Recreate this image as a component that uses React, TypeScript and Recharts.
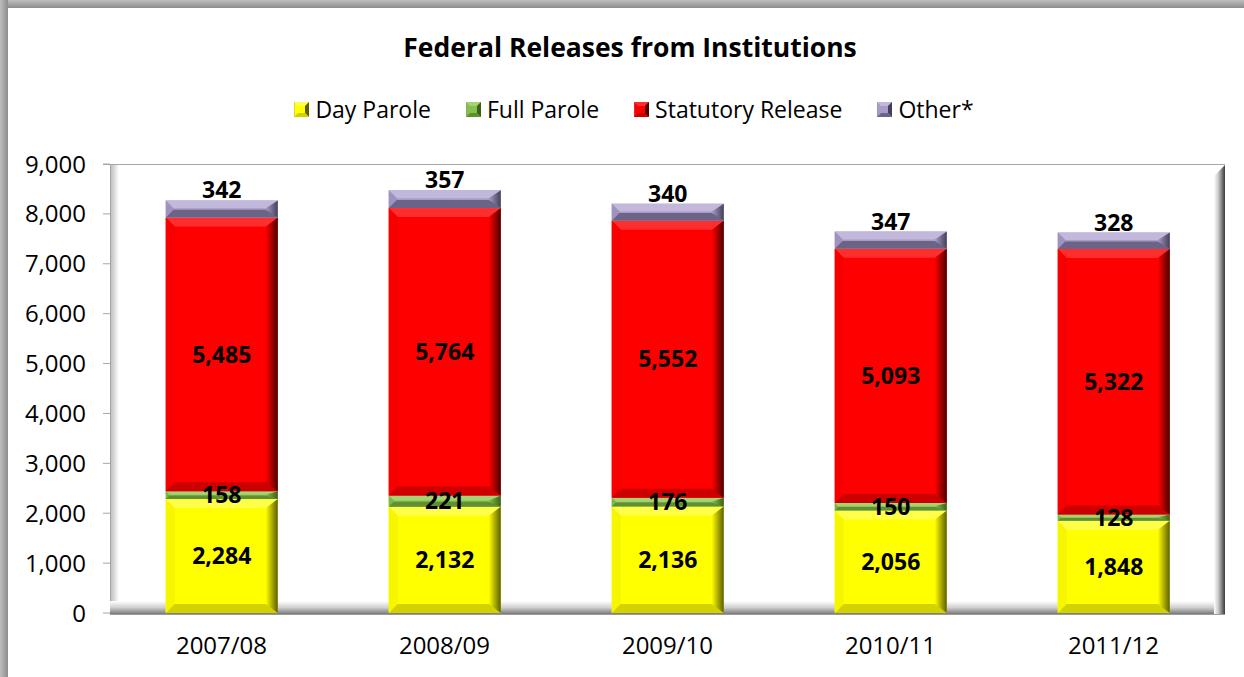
import React from 'react';
import { BarChart, Bar, XAxis, YAxis, Legend, LabelList } from 'recharts';

const categories = ['2007/08', '2008/09', '2009/10', '2010/11', '2011/12'];
const dayParole = [2284, 2132, 2136, 2056, 1848];
const fullParole = [158, 221, 176, 150, 128];
const statutoryRelease = [5485, 5764, 5552, 5093, 5322];
const otherReleases = [342, 357, 340, 347, 328];
const yTicks = [0, 1000, 2000, 3000, 4000, 5000, 6000, 7000, 8000, 9000];

const data = categories.map((c, i) => ({
  category: c,
  day: dayParole[i],
  full: fullParole[i],
  stat: statutoryRelease[i],
  other: otherReleases[i],
}));

type Pal = { base: string; light: string; side: string; dark: string; bottom: string };
const series: { key: string; name: string; pal: Pal }[] = [
  { key: 'day', name: 'Day Parole', pal: { base: '#ffff00', light: '#ffff4a', side: '#f6f600', dark: '#5e5e00', bottom: '#d2d200' } },
  { key: 'full', name: 'Full Parole', pal: { base: '#86c04a', light: '#a6d276', side: '#7db845', dark: '#3d6018', bottom: '#5f8f30' } },
  { key: 'stat', name: 'Statutory Release', pal: { base: '#ff0000', light: '#ff2e2e', side: '#f60000', dark: '#4a0000', bottom: '#cc0000' } },
  { key: 'other', name: 'Other*', pal: { base: '#a89bc6', light: '#c2b8dc', side: '#a092c0', dark: '#454058', bottom: '#6c6486' } },
];

const FONT = '"Open Sans", "DejaVu Sans", sans-serif';

const makeBevel = (pal: Pal, id: string) => (props: any) => {
  const { x, y, width, height } = props;
  if (!height || height <= 0 || !width) return <g />;
  const w = width;
  const h = height;
  const b = Math.max(1, Math.min(9, h / 2.2, w / 5));
  const r = Math.min(12, w / 6);
  return (
    <g>
      <defs>
        <linearGradient id={`rg-${id}`} x1="0" y1="0" x2="1" y2="0">
          <stop offset="0" stopColor={pal.base} />
          <stop offset="1" stopColor={pal.dark} />
        </linearGradient>
      </defs>
      <rect x={x} y={y} width={w} height={h} fill={pal.base} />
      <polygon points={`${x},${y} ${x + w},${y} ${x + w - b},${y + b} ${x + b},${y + b}`} fill={pal.light} />
      <polygon points={`${x},${y} ${x + b},${y + b} ${x + b},${y + h - b} ${x},${y + h}`} fill={pal.side} />
      <polygon points={`${x},${y + h} ${x + w},${y + h} ${x + w - b},${y + h - b} ${x + b},${y + h - b}`} fill={pal.bottom} />
      <polygon
        points={`${x + w},${y} ${x + w},${y + h} ${x + w - r},${y + h - Math.min(b, r)} ${x + w - r},${y + Math.min(b, r)}`}
        fill={`url(#rg-${id})`}
      />
    </g>
  );
};

const shapes: Record<string, any> = {};
series.forEach((s) => {
  shapes[s.key] = makeBevel(s.pal, s.key);
});

const fmt = (v: any) => Number(v).toLocaleString('en-US');

const LegendIcon = ({ pal }: { pal: Pal }) => (
  <svg width={15} height={15} style={{ display: 'block' }}>
    <rect x={0} y={0} width={15} height={15} fill={pal.base} stroke="#8a8a8a" strokeWidth={0.6} />
    <polygon points="0,0 15,0 11,4 4,4" fill={pal.light} />
    <polygon points="15,0 15,15 11,11 11,4" fill={pal.dark} />
    <polygon points="0,15 15,15 11,11 4,11" fill={pal.bottom} />
  </svg>
);

const renderLegend = () => (
  <div style={{ display: 'flex', justifyContent: 'center', alignItems: 'center', fontFamily: FONT, fontSize: 23, color: '#000', paddingLeft: 24 }}>
    {series.map((s, i) => (
      <div key={s.key} style={{ display: 'flex', alignItems: 'center', marginLeft: i === 0 ? 0 : 35 }}>
        <LegendIcon pal={s.pal} />
        <span style={{ marginLeft: 6 }}>{s.name}</span>
      </div>
    ))}
  </div>
);

const Background = () => (
  <svg width={1244} height={677} style={{ position: 'absolute', left: 0, top: 0 }}>
    <defs>
      <linearGradient id="frameTop" x1="0" y1="0" x2="0" y2="1">
        <stop offset="0" stopColor="#bdbdbd" />
        <stop offset="1" stopColor="#8c8c8c" />
      </linearGradient>
      <linearGradient id="frameLeft" x1="0" y1="0" x2="1" y2="0">
        <stop offset="0" stopColor="#bdbdbd" />
        <stop offset="1" stopColor="#8c8c8c" />
      </linearGradient>
      <linearGradient id="leftWall" x1="0" y1="0" x2="1" y2="0">
        <stop offset="0" stopColor="#b8b8b8" />
        <stop offset="1" stopColor="#ffffff" />
      </linearGradient>
      <linearGradient id="rightWall" x1="0" y1="0" x2="1" y2="0">
        <stop offset="0" stopColor="#ffffff" />
        <stop offset="0.4" stopColor="#c8c8c8" />
        <stop offset="1" stopColor="#3a3a3a" />
      </linearGradient>
      <linearGradient id="floor" x1="0" y1="0" x2="0" y2="1">
        <stop offset="0" stopColor="#ffffff" />
        <stop offset="0.5" stopColor="#d0d0d0" />
        <stop offset="1" stopColor="#7a7a7a" />
      </linearGradient>
    </defs>
    <rect x={0} y={0} width={1244} height={677} fill="#ffffff" />
    <rect x={0} y={0} width={1244} height={8} fill="url(#frameTop)" />
    <rect x={0} y={0} width={8} height={677} fill="url(#frameLeft)" />
    <rect x={110} y={165} width={9} height={448} fill="url(#leftWall)" />
    <line x1={103} y1={164.5} x2={1225} y2={164.5} stroke="#a6a6a6" strokeWidth={1} />
    <line x1={110.5} y1={164} x2={110.5} y2={614} stroke="#a6a6a6" strokeWidth={1} />
    <rect x={110} y={601} width={1112} height={13} fill="url(#floor)" />
    <polygon points="1214,176 1225,165 1225,614 1214,614" fill="url(#rightWall)" />
    <line x1={110} y1={614.5} x2={1225} y2={614.5} stroke="#9a9a9a" strokeWidth={1} />
  </svg>
);

export default function App() {
  return (
    <div style={{ position: 'absolute', left: 0, top: 0, width: 1244, height: 677, overflow: 'hidden', background: '#fff' }}>
      <Background />
      <div
        style={{
          position: 'absolute',
          left: 0,
          top: 29,
          width: 1244,
          textAlign: 'center',
          fontFamily: FONT,
          fontWeight: 700,
          fontSize: 26.5,
          color: '#000',
          paddingLeft: 16,
          boxSizing: 'border-box',
        }}
      >
        Federal Releases from Institutions
      </div>
      <div style={{ position: 'absolute', left: 0, top: 0 }}>
        <BarChart
          width={1244}
          height={677}
          data={data}
          margin={{ top: 164, right: 19, bottom: 14, left: 40 }}
          barCategoryGap="25%"
        >
          <XAxis
            dataKey="category"
            axisLine={false}
            tickLine={false}
            tickSize={0}
            tickMargin={24}
            height={50}
            interval={0}
            tick={{ fill: '#000', fontSize: 24, fontFamily: FONT }}
          />
          <YAxis
            domain={[0, 9000]}
            ticks={yTicks}
            width={70}
            axisLine={false}
            tickLine={{ stroke: '#a6a6a6' }}
            tickSize={7}
            tickMargin={17}
            tickFormatter={fmt}
            interval={0}
            tick={{ fill: '#000', fontSize: 24, fontFamily: FONT }}
          />
          <Legend
            verticalAlign="middle"
            align="center"
            layout="horizontal"
            wrapperStyle={{ top: 93, left: 0, width: 1244 }}
            content={renderLegend}
          />
          {series.map((s) => (
            <Bar
              key={s.key}
              dataKey={s.key}
              name={s.name}
              stackId="a"
              fill={s.pal.base}
              shape={shapes[s.key]}
              isAnimationActive={false}
            >
              <LabelList
                dataKey={s.key}
                position={s.key === 'other' ? 'top' : 'center'}
                offset={s.key === 'other' ? 2 : 5}
                formatter={fmt}
                style={{ fill: '#000', fontSize: 23, fontWeight: 700, fontFamily: FONT }}
              />
            </Bar>
          ))}
        </BarChart>
      </div>
    </div>
  );
}
